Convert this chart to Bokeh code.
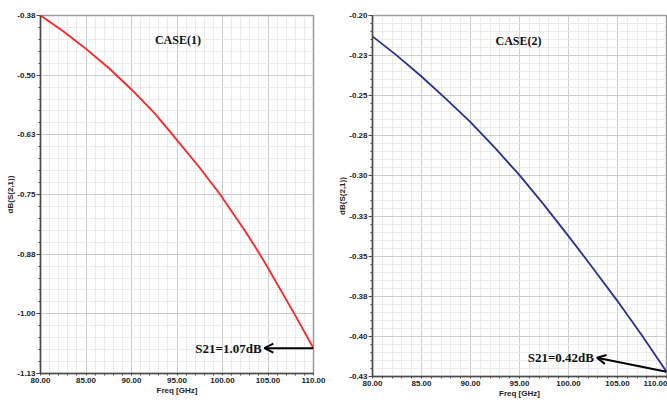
from bokeh.plotting import figure
from bokeh.layouts import row
from bokeh.models import Range1d, FixedTicker, Label, Arrow, OpenHead
from bokeh.embed import file_html
from bokeh.resources import INLINE

# ---- data ----
freq1 = [80.0, 82.5, 85.0, 87.5, 90.0, 92.5, 94.3, 97.5, 99.7, 102.5, 103.9, 105.0, 107.9, 110.0]
s21_1 = [-0.375, -0.408, -0.445, -0.485, -0.530, -0.579, -0.620, -0.694, -0.749,
         -0.827, -0.869, -0.904, -1.000, -1.072]

freq2 = [80.0, 82.5, 85.0, 87.5, 90.0, 92.5, 95.0, 97.5, 100.0, 102.5, 105.0, 107.5, 110.0]
s21_2 = [-0.213, -0.225, -0.238, -0.252, -0.2665, -0.2825, -0.2995, -0.318, -0.3375,
         -0.3575, -0.378, -0.3995, -0.422]

x_ticks = [80, 85, 90, 95, 100, 105, 110]
x_labels = ["80.00", "85.00", "90.00", "95.00", "100.00", "105.00", "110.00"]

y1_ticks = [-0.375, -0.5, -0.625, -0.75, -0.875, -1.0, -1.125]
y1_labels = ["-0.38", "-0.50", "-0.63", "-0.75", "-0.88", "-1.00", "-1.13"]

y2_ticks = [-0.2, -0.225, -0.25, -0.275, -0.3, -0.325, -0.35, -0.375, -0.4, -0.425]
y2_labels = ["-0.20", "-0.23", "-0.25", "-0.28", "-0.30", "-0.33", "-0.35", "-0.38", "-0.40", "-0.43"]

titles = ["CASE(1)", "CASE(2)"]
notes = ["S21=1.07dB", "S21=0.42dB"]


def minor(ticks, n=5):
    out = []
    for a, b in zip(ticks[:-1], ticks[1:]):
        for k in range(1, n):
            out.append(a + (b - a) * k / n)
    return out


def make_fig(width, height, border_left, border_right, yt, yl, fx, fy, color,
             title, title_pos, note, note_pos, head_pos):
    p = figure(width=width, height=height, output_backend="svg", toolbar_location=None,
               x_range=Range1d(80, 110), y_range=Range1d(yt[-1], yt[0]),
               min_border_left=border_left, min_border_right=border_right,
               min_border_top=15, min_border_bottom=0)
    p.background_fill_color = "white"
    p.border_fill_color = "white"
    p.outline_line_color = "#9a9a9a"
    p.outline_line_width = 1.5

    p.xaxis.ticker = FixedTicker(ticks=x_ticks, minor_ticks=minor(x_ticks))
    p.yaxis.ticker = FixedTicker(ticks=yt, minor_ticks=minor(yt))
    p.xaxis.major_label_overrides = {t: l for t, l in zip(x_ticks, x_labels)}
    p.yaxis.major_label_overrides = {t: l for t, l in zip(yt, yl)}

    for ax in (p.xaxis[0], p.yaxis[0]):
        ax.axis_line_color = "#4a4a4a"
        ax.axis_line_width = 1.5
        ax.major_tick_line_color = "#4a4a4a"
        ax.minor_tick_line_color = "#4a4a4a"
        ax.major_tick_in = 0
        ax.minor_tick_in = 0
        ax.major_label_text_font = "Liberation Sans"
        ax.major_label_text_font_style = "bold"
        ax.major_label_text_font_size = "8px"
        ax.major_label_text_color = "#222222"
        ax.axis_label_text_font = "Liberation Sans"
        ax.axis_label_text_font_style = "bold"
        ax.axis_label_text_font_size = "8px"
        ax.axis_label_text_color = "#222222"
    p.yaxis.major_label_standoff = 1
    p.xaxis.major_label_standoff = 2
    p.yaxis.major_tick_out = 4
    p.yaxis.minor_tick_out = 2
    p.xaxis.major_tick_out = 2
    p.xaxis.minor_tick_out = 2
    p.xaxis.axis_label = "Freq [GHz]"
    p.yaxis.axis_label = "dB(S(2,1))"
    p.xaxis.axis_label_standoff = 0
    p.yaxis.axis_label_standoff = -1

    p.xgrid.grid_line_color = "#cccccc"
    p.ygrid.grid_line_color = "#cccccc"
    p.xgrid.minor_grid_line_color = "#ebebeb"
    p.ygrid.minor_grid_line_color = "#ebebeb"

    p.line(fx, fy, line_color=color, line_width=1.8, line_join="round")

    p.add_layout(Label(x=title_pos[0], y=title_pos[1], text=title,
                       text_font="Liberation Serif", text_font_style="bold",
                       text_font_size="12px", text_align="center",
                       text_baseline="middle", text_color="#111111"))
    p.add_layout(Label(x=note_pos[0], y=note_pos[1], text=note,
                       text_font="Liberation Serif", text_font_style="bold",
                       text_font_size="13px", text_align="right",
                       text_baseline="middle", text_color="#111111"))
    p.add_layout(Arrow(end=OpenHead(size=9, line_width=2, line_color="black"),
                       x_start=fx[-1], y_start=fy[-1],
                       x_end=head_pos[0], y_end=head_pos[1],
                       line_width=2, line_color="black"))
    return p


p1 = make_fig(330, 397, 40, 17, y1_ticks, y1_labels, freq1, s21_1, "#ff2222",
              titles[0], (95.1, -0.426), notes[0], (104.3, -1.073), (104.6, -1.072))
p2 = make_fig(337, 400, 42, 1, y2_ticks, y2_labels, freq2, s21_2, "#2b2f95",
              titles[1], (94.9, -0.2157), notes[1], (102.6, -0.4133), (102.9, -0.4133))

layout = row(p1, p2)
open("out.html", "w").write(file_html(layout, INLINE))
